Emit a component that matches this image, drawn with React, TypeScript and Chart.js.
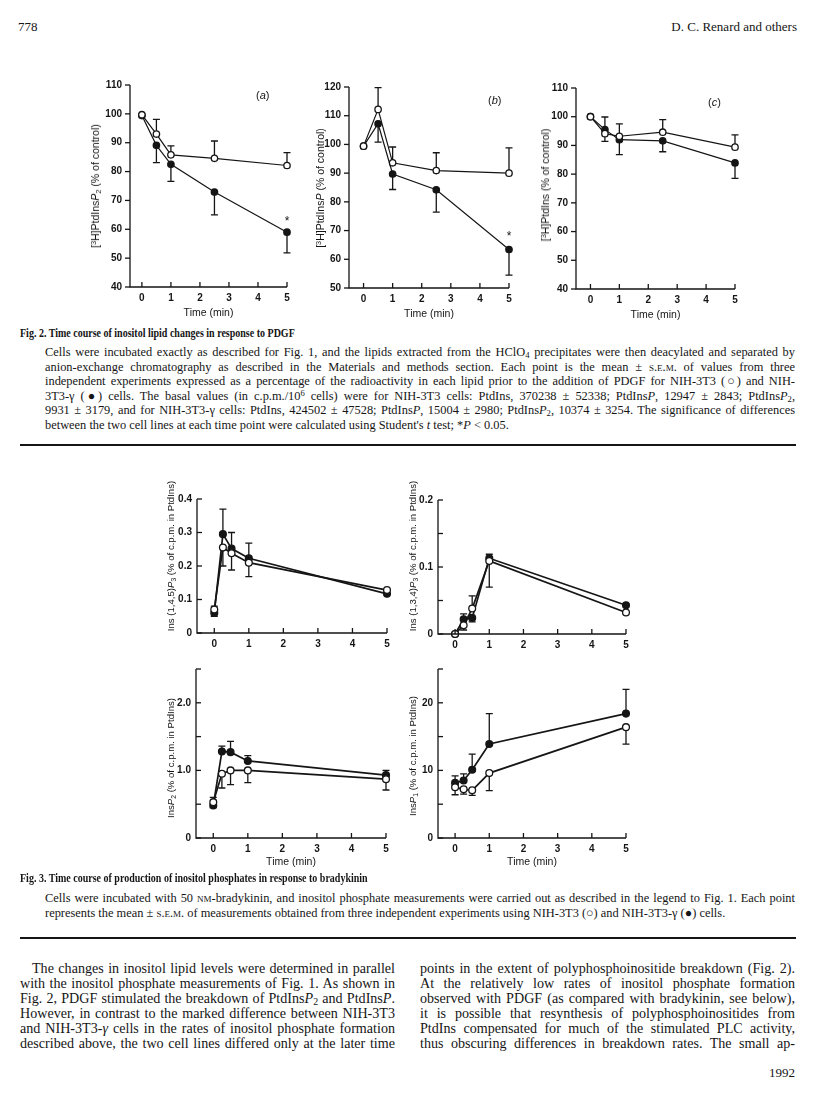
import React, { useEffect, useRef } from 'react';
import { Chart, registerables } from 'chart.js';

Chart.register(...registerables);

// ---------------- data ----------------
const fig2Times = [0, 0.5, 1, 2.5, 5];
const fig3Times = [0, 0.25, 0.5, 1, 5];
const xTickValues = [0, 1, 2, 3, 4, 5];

// Fig. 2(a) PtdInsP2
const fig2aOpen = [99.7, 93.0, 85.8, 84.6, 82.1];
const fig2aOpenErr = [null, 98.1, 88.9, 90.6, 86.6];
const fig2aFilled = [99.4, 89.1, 82.5, 72.9, 59.0];
const fig2aFilledErr = [null, 83.1, 76.6, 65.0, 51.8];
const fig2aStars = [{ x: 5, y: 63.3 }];
const fig2aYTicks = [40, 50, 60, 70, 80, 90, 100, 110];

// Fig. 2(b) PtdInsP
const fig2bOpen = [99.4, 112.2, 93.6, 90.9, 90.0];
const fig2bOpenErr = [null, 119.8, 99.1, 97.1, 98.8];
const fig2bFilled = [99.4, 107.2, 89.7, 84.2, 63.4];
const fig2bFilledErr = [null, 100.8, 84.3, 76.4, 54.5];
const fig2bStars = [{ x: 5, y: 68.5 }];
const fig2bYTicks = [50, 60, 70, 80, 90, 100, 110, 120];

// Fig. 2(c) PtdIns
const fig2cOpen = [100, 94.1, 93.2, 94.6, 89.4];
const fig2cOpenErr = [null, 91.4, 97.5, 99.0, 93.7];
const fig2cFilled = [100, 95.5, 92.0, 91.6, 83.9];
const fig2cFilledErr = [null, 99.9, 86.8, 87.8, 78.5];
const fig2cYTicks = [40, 50, 60, 70, 80, 90, 100, 110];

// Fig. 3 Ins(1,4,5)P3
const fig3aOpen = [0.07, 0.255, 0.238, 0.21, 0.128];
const fig3aOpenErr = [0.08, 0.2, 0.188, 0.168, null];
const fig3aFilled = [0.06, 0.295, 0.252, 0.223, 0.117];
const fig3aFilledErr = [0.05, 0.37, 0.3, 0.268, null];
const fig3aYTicks = [0, 0.1, 0.2, 0.3, 0.4];
const fig3aYLabels = ['0', '0.1', '0.2', '0.3', '0.4'];

// Fig. 3 Ins(1,3,4)P3
const fig3bOpen = [0, 0.013, 0.038, 0.109, 0.032];
const fig3bOpenErr = [null, 0.006, 0.057, 0.07, null];
const fig3bFilled = [0, 0.022, 0.024, 0.113, 0.043];
const fig3bFilledErr = [null, 0.03, 0.018, 0.119, null];
const fig3bYTicks = [0, 0.05, 0.1, 0.15, 0.2];
const fig3bYLabels = ['0', '', '0.1', '', '0.2'];

// Fig. 3 InsP2
const fig3cOpen = [0.53, 0.95, 1.0, 1.0, 0.87];
const fig3cOpenErr = [0.6, 0.74, 0.79, 0.82, 0.71];
const fig3cFilled = [0.48, 1.28, 1.27, 1.14, 0.93];
const fig3cFilledErr = [0.45, 1.36, 1.43, 1.22, 1.0];
const fig3cYTicks = [0, 0.5, 1, 1.5, 2, 2.5];
const fig3cYLabels = ['0', '', '1.0', '', '2.0', ''];

// Fig. 3 InsP1
const fig3dOpen = [7.5, 7.2, 7.05, 9.6, 16.4];
const fig3dOpenErr = [6.4, 6.5, 6.3, 7.0, 13.9];
const fig3dFilled = [8.15, 8.5, 10.1, 13.9, 18.4];
const fig3dFilledErr = [9.2, 9.5, 12.4, 18.4, 22];
const fig3dYTicks = [0, 5, 10, 15, 20, 25];
const fig3dYLabels = ['0', '', '10', '', '20', ''];

// ---------------- helpers ----------------
const SANS = "'Liberation Sans', Arial, Helvetica, sans-serif";
const SERIF = "'Liberation Serif', 'Times New Roman', serif";
const INK = '#151515';
const PAD = { l: 50, t: 14, r: 14, b: 36 };

type Series = { x: number[]; y: number[]; err: (number | null)[]; filled: boolean };
type Spec = {
  plot: { l: number; t: number; r: number; b: number };
  xMin: number;
  yMin: number;
  yMax: number;
  yTicks: number[];
  yLabels: string[];
  yTickDir: 'in' | 'out';
  xTitle: boolean;
  xTitlePad: number;
  series: Series[];
  stars?: { x: number; y: number }[];
  lineWidth: number;
  pointRadius: number;
};

const axesPlugin = {
  id: 'sciAxes',
  afterDatasetsDraw(chart: any, _args: any, opts: any) {
    const { ctx, chartArea } = chart;
    const xs = chart.scales.x;
    const ys = chart.scales.y;
    ctx.save();
    ctx.strokeStyle = INK;
    ctx.lineWidth = 1.3;
    ctx.beginPath();
    ctx.moveTo(chartArea.left, chartArea.top);
    ctx.lineTo(chartArea.left, chartArea.bottom);
    ctx.lineTo(chartArea.right, chartArea.bottom);
    ctx.stroke();
    const len = 5;
    xs.ticks.forEach((t: any) => {
      const px = xs.getPixelForValue(t.value);
      ctx.beginPath();
      ctx.moveTo(px, chartArea.bottom);
      ctx.lineTo(px, chartArea.bottom - len);
      ctx.stroke();
    });
    ys.ticks.forEach((t: any) => {
      const py = ys.getPixelForValue(t.value);
      ctx.beginPath();
      ctx.moveTo(chartArea.left, py);
      ctx.lineTo(chartArea.left + (opts.yTickDir === 'out' ? -len : len), py);
      ctx.stroke();
    });
    ctx.restore();
  },
};

const errorBarPlugin = {
  id: 'errBars',
  beforeDatasetsDraw(chart: any) {
    const { ctx } = chart;
    const xs = chart.scales.x;
    const ys = chart.scales.y;
    ctx.save();
    ctx.strokeStyle = INK;
    ctx.lineWidth = 1.3;
    chart.data.datasets.forEach((ds: any) => {
      (ds.errEnd || []).forEach((e: number | null, j: number) => {
        if (e === null || e === undefined) return;
        const p = ds.data[j];
        const px = xs.getPixelForValue(p.x);
        const py0 = ys.getPixelForValue(p.y);
        const py1 = ys.getPixelForValue(e);
        ctx.beginPath();
        ctx.moveTo(px, py0);
        ctx.lineTo(px, py1);
        ctx.moveTo(px - 3.5, py1);
        ctx.lineTo(px + 3.5, py1);
        ctx.stroke();
      });
    });
    ctx.restore();
  },
};

const starPlugin = {
  id: 'sigStars',
  afterDatasetsDraw(chart: any, _args: any, opts: any) {
    const stars = opts.stars || [];
    if (!stars.length) return;
    const { ctx } = chart;
    ctx.save();
    ctx.fillStyle = INK;
    ctx.font = `12px ${SANS}`;
    ctx.textAlign = 'center';
    ctx.textBaseline = 'middle';
    stars.forEach((s: any) => {
      ctx.fillText('*', chart.scales.x.getPixelForValue(s.x), chart.scales.y.getPixelForValue(s.y) + 2);
    });
    ctx.restore();
  },
};

function ChartPanel({ spec }: { spec: Spec }) {
  const ref = useRef<HTMLCanvasElement>(null);
  const w = spec.plot.r - spec.plot.l + PAD.l + PAD.r;
  const h = spec.plot.b - spec.plot.t + PAD.t + PAD.b;
  useEffect(() => {
    if (!ref.current) return;
    const tickFont = { family: SANS, size: 10, weight: 'bold' as const };
    const chart = new Chart(ref.current, {
      type: 'line',
      data: {
        datasets: spec.series.map((s) => ({
          data: s.x.map((x, i) => ({ x, y: s.y[i] })),
          errEnd: s.err,
          borderColor: INK,
          borderWidth: spec.lineWidth,
          pointRadius: spec.pointRadius,
          pointBackgroundColor: s.filled ? INK : '#ffffff',
          pointBorderColor: INK,
          pointBorderWidth: 1.3,
          fill: false,
          tension: 0,
          clip: false,
        })) as any,
      },
      options: {
        animation: false,
        responsive: false,
        devicePixelRatio: 1,
        layout: { padding: { left: 0, top: PAD.t, right: PAD.r, bottom: 0 } },
        plugins: {
          legend: { display: false },
          tooltip: { enabled: false },
          sciAxes: { yTickDir: spec.yTickDir },
          sigStars: { stars: spec.stars || [] },
        } as any,
        scales: {
          x: {
            type: 'linear',
            min: spec.xMin,
            max: 5,
            grid: { display: false, drawTicks: false },
            border: { display: false },
            ticks: {
              padding: 5,
              font: tickFont,
              color: INK,
              autoSkip: false,
              maxRotation: 0,
              callback: (v: any) => String(v),
            },
            afterBuildTicks: (s: any) => {
              s.ticks = xTickValues.map((v) => ({ value: v }));
            },
            afterFit: (s: any) => {
              s.height = PAD.b;
            },
            title: {
              display: spec.xTitle,
              text: 'Time (min)',
              color: INK,
              font: { family: SANS, size: 10.5 },
              padding: { top: 0, bottom: spec.xTitlePad },
            },
          },
          y: {
            type: 'linear',
            min: spec.yMin,
            max: spec.yMax,
            grid: { display: false, drawTicks: false },
            border: { display: false },
            ticks: {
              padding: spec.yTickDir === 'out' ? 8 : 5,
              font: tickFont,
              color: INK,
              autoSkip: false,
              callback: (v: any) => {
                const i = spec.yTicks.findIndex((t) => Math.abs(t - v) < 1e-9);
                return i >= 0 ? spec.yLabels[i] : '';
              },
            },
            afterBuildTicks: (s: any) => {
              s.ticks = spec.yTicks.map((v) => ({ value: v }));
            },
            afterFit: (s: any) => {
              s.width = PAD.l;
            },
          },
        },
      },
      plugins: [errorBarPlugin, axesPlugin, starPlugin],
    });
    return () => chart.destroy();
  }, []);
  return (
    <canvas
      ref={ref}
      width={w}
      height={h}
      style={{ position: 'absolute', left: spec.plot.l - PAD.l, top: spec.plot.t - PAD.t, width: w, height: h }}
    />
  );
}

const fig2Labels = (ticks: number[]) => ticks.map((t) => String(t));

const specs: Spec[] = [
  {
    plot: { l: 130, t: 85, r: 287, b: 287 },
    xMin: -0.41, yMin: 40, yMax: 110,
    yTicks: fig2aYTicks, yLabels: fig2Labels(fig2aYTicks), yTickDir: 'out', xTitle: true, xTitlePad: 4,
    series: [
      { x: fig2Times, y: fig2aOpen, err: fig2aOpenErr, filled: false },
      { x: fig2Times, y: fig2aFilled, err: fig2aFilledErr, filled: true },
    ],
    stars: fig2aStars, lineWidth: 1.2, pointRadius: 3.2,
  },
  {
    plot: { l: 349, t: 87, r: 509, b: 288 },
    xMin: -0.5, yMin: 50, yMax: 120,
    yTicks: fig2bYTicks, yLabels: fig2Labels(fig2bYTicks), yTickDir: 'out', xTitle: true, xTitlePad: 4,
    series: [
      { x: fig2Times, y: fig2bOpen, err: fig2bOpenErr, filled: false },
      { x: fig2Times, y: fig2bFilled, err: fig2bFilledErr, filled: true },
    ],
    stars: fig2bStars, lineWidth: 1.2, pointRadius: 3.2,
  },
  {
    plot: { l: 576, t: 88, r: 735, b: 289 },
    xMin: -0.5, yMin: 40, yMax: 110,
    yTicks: fig2cYTicks, yLabels: fig2Labels(fig2cYTicks), yTickDir: 'out', xTitle: true, xTitlePad: 4,
    series: [
      { x: fig2Times, y: fig2cOpen, err: fig2cOpenErr, filled: false },
      { x: fig2Times, y: fig2cFilled, err: fig2cFilledErr, filled: true },
    ],
    lineWidth: 1.2, pointRadius: 3.2,
  },
  {
    plot: { l: 197, t: 499, r: 387, b: 633 },
    xMin: -0.5, yMin: 0, yMax: 0.4,
    yTicks: fig3aYTicks, yLabels: fig3aYLabels, yTickDir: 'in', xTitle: false, xTitlePad: 6,
    series: [
      { x: fig3Times, y: fig3aOpen, err: fig3aOpenErr, filled: false },
      { x: fig3Times, y: fig3aFilled, err: fig3aFilledErr, filled: true },
    ],
    lineWidth: 1.7, pointRadius: 3.4,
  },
  {
    plot: { l: 438, t: 500, r: 626, b: 634 },
    xMin: -0.5, yMin: 0, yMax: 0.2,
    yTicks: fig3bYTicks, yLabels: fig3bYLabels, yTickDir: 'in', xTitle: false, xTitlePad: 6,
    series: [
      { x: fig3Times, y: fig3bOpen, err: fig3bOpenErr, filled: false },
      { x: fig3Times, y: fig3bFilled, err: fig3bFilledErr, filled: true },
    ],
    lineWidth: 1.7, pointRadius: 3.4,
  },
  {
    plot: { l: 196, t: 669, r: 386, b: 838 },
    xMin: -0.5, yMin: 0, yMax: 2.5,
    yTicks: fig3cYTicks, yLabels: fig3cYLabels, yTickDir: 'in', xTitle: true, xTitlePad: 6,
    series: [
      { x: fig3Times, y: fig3cOpen, err: fig3cOpenErr, filled: false },
      { x: fig3Times, y: fig3cFilled, err: fig3cFilledErr, filled: true },
    ],
    lineWidth: 1.7, pointRadius: 3.4,
  },
  {
    plot: { l: 438, t: 669, r: 626, b: 838 },
    xMin: -0.5, yMin: 0, yMax: 25,
    yTicks: fig3dYTicks, yLabels: fig3dYLabels, yTickDir: 'in', xTitle: true, xTitlePad: 6,
    series: [
      { x: fig3Times, y: fig3dOpen, err: fig3dOpenErr, filled: false },
      { x: fig3Times, y: fig3dFilled, err: fig3dFilledErr, filled: true },
    ],
    lineWidth: 1.7, pointRadius: 3.4,
  },
];

// ---------------- text helpers ----------------
const sub = (t: string) => <sub style={{ fontSize: '70%', lineHeight: 0, verticalAlign: '-0.25em' }}>{t}</sub>;
const sup = (t: string) => <sup style={{ fontSize: '70%', lineHeight: 0, verticalAlign: '0.45em' }}>{t}</sup>;
const sc = (t: string) => <span style={{ fontVariant: 'small-caps' }}>{t}</span>;

function YTitle({ cx, cy, size, children }: { cx: number; cy: number; size: number; children: React.ReactNode }) {
  return (
    <div
      style={{
        position: 'absolute', left: cx, top: cy, whiteSpace: 'nowrap', fontFamily: SANS, fontSize: size,
        color: INK, lineHeight: '12px', transform: 'translate(-50%, -50%) rotate(-90deg)',
      }}
    >
      {children}
    </div>
  );
}

function TextLine({ left, cy, width, size, lh, last, children }: any) {
  return (
    <div
      style={{
        position: 'absolute', left, top: cy - lh / 2, width, height: lh, lineHeight: `${lh}px`, fontSize: size,
        fontFamily: SERIF, color: INK, whiteSpace: 'nowrap', textAlign: 'justify',
        textAlignLast: last ? 'left' : 'justify',
      } as any}
    >
      {children}
    </div>
  );
}

function Title({ left, cy, children }: any) {
  return (
    <div
      style={{
        position: 'absolute', left, top: cy - 8, height: 16, lineHeight: '16px', fontSize: 12.5,
        fontFamily: SERIF, fontWeight: 'bold', color: INK, whiteSpace: 'nowrap',
        transform: 'scaleX(0.8)', transformOrigin: 'left center',
      }}
    >
      {children}
    </div>
  );
}

const cap2 = [
  <>Cells were incubated exactly as described for Fig. 1, and the lipids extracted from the HClO{sub('4')} precipitates were then deacylated and separated by</>,
  <>anion-exchange chromatography as described in the Materials and methods section. Each point is the mean ± {sc('s.e.m.')} of values from three</>,
  <>independent experiments expressed as a percentage of the radioactivity in each lipid prior to the addition of PDGF for NIH-3T3 (○) and NIH-</>,
  <>3T3-γ (●) cells. The basal values (in c.p.m./10{sup('6')} cells) were for NIH-3T3 cells: PtdIns, 370238 ± 52338; PtdIns<i>P</i>, 12947 ± 2843; PtdIns<i>P</i>{sub('2')},</>,
  <>9931 ± 3179, and for NIH-3T3-γ cells: PtdIns, 424502 ± 47528; PtdIns<i>P</i>, 15004 ± 2980; PtdIns<i>P</i>{sub('2')}, 10374 ± 3254. The significance of differences</>,
  <>between the two cell lines at each time point were calculated using Student's <i>t</i> test; *<i>P</i> &lt; 0.05.</>,
];
const cap2Y = [352, 366.6, 381.2, 395.8, 410.4, 425];

const cap3 = [
  <>Cells were incubated with 50 {sc('nm')}-bradykinin, and inositol phosphate measurements were carried out as described in the legend to Fig. 1. Each point</>,
  <>represents the mean ± {sc('s.e.m.')} of measurements obtained from three independent experiments using NIH-3T3 (○) and NIH-3T3-γ (●) cells.</>,
];
const cap3Y = [898, 913];

const bodyLeft = [
  <>The changes in inositol lipid levels were determined in parallel</>,
  <>with the inositol phosphate measurements of Fig. 1. As shown in</>,
  <>Fig. 2, PDGF stimulated the breakdown of PtdIns<i>P</i>{sub('2')} and PtdIns<i>P</i>.</>,
  <>However, in contrast to the marked difference between NIH-3T3</>,
  <>and NIH-3T3-<i>γ</i> cells in the rates of inositol phosphate formation</>,
  <>described above, the two cell lines differed only at the later time</>,
];
const bodyRight = [
  <>points in the extent of polyphosphoinositide breakdown (Fig. 2).</>,
  <>At the relatively low rates of inositol phosphate formation</>,
  <>observed with PDGF (as compared with bradykinin, see below),</>,
  <>it is possible that resynthesis of polyphosphoinositides from</>,
  <>PtdIns compensated for much of the stimulated PLC activity,</>,
  <>thus obscuring differences in breakdown rates. The small ap-</>,
];
const bodyY = [968, 983, 998, 1013, 1028, 1043];

export default function App() {
  return (
    <div style={{ position: 'absolute', left: 0, top: 0, width: 816, height: 1101, background: '#fff', overflow: 'hidden' }}>
      {/* header */}
      <div style={{ position: 'absolute', left: 18, top: 19, fontFamily: SERIF, fontSize: 13, color: INK }}>778</div>
      <div style={{ position: 'absolute', right: 19, top: 19, fontFamily: SERIF, fontSize: 13, color: INK }}>D. C. Renard and others</div>

      {specs.map((s, i) => (
        <ChartPanel key={i} spec={s} />
      ))}

      {/* Fig 2 axis titles and panel letters */}
      <YTitle cx={95} cy={186} size={10.5}>[{sup('3')}H]PtdIns<i>P</i>{sub('2')} (% of control)</YTitle>
      <YTitle cx={320} cy={188} size={10.5}>[{sup('3')}H]PtdIns<i>P</i> (% of control)</YTitle>
      <YTitle cx={545} cy={185} size={10.5}>[{sup('3')}H]PtdIns (% of control)</YTitle>
      <div style={{ position: 'absolute', left: 256, top: 89, fontFamily: SANS, fontSize: 11, color: INK }}>(<i>a</i>)</div>
      <div style={{ position: 'absolute', left: 488, top: 94, fontFamily: SANS, fontSize: 11, color: INK }}>(<i>b</i>)</div>
      <div style={{ position: 'absolute', left: 708, top: 96, fontFamily: SANS, fontSize: 11, color: INK }}>(<i>c</i>)</div>

      {/* Fig 3 axis titles */}
      <YTitle cx={171} cy={556} size={9.6}>Ins (1,4,5)<i>P</i>{sub('3')} (% of c.p.m. in PtdIns)</YTitle>
      <YTitle cx={413} cy={556} size={9.6}>Ins (1,3,4)<i>P</i>{sub('3')} (% of c.p.m. in PtdIns)</YTitle>
      <YTitle cx={171} cy={758} size={9.6}>Ins<i>P</i>{sub('2')} (% of c.p.m. in PtdIns)</YTitle>
      <YTitle cx={413} cy={756} size={9.6}>Ins<i>P</i>{sub('1')} (% of c.p.m. in PtdIns)</YTitle>

      {/* Fig 2 caption */}
      <Title left={20} cy={333}>Fig. 2. Time course of inositol lipid changes in response to PDGF</Title>
      {cap2.map((c, i) => (
        <TextLine key={i} left={45} cy={cap2Y[i]} width={750} size={12.4} lh={14} last={i === cap2.length - 1}>{c}</TextLine>
      ))}
      <div style={{ position: 'absolute', left: 20, top: 444, width: 776, height: 1.6, background: INK }} />

      {/* Fig 3 caption */}
      <Title left={20} cy={878}>Fig. 3. Time course of production of inositol phosphates in response to bradykinin</Title>
      {cap3.map((c, i) => (
        <TextLine key={i} left={45} cy={cap3Y[i]} width={750} size={12.4} lh={14} last={i === cap3.length - 1}>{c}</TextLine>
      ))}
      <div style={{ position: 'absolute', left: 20, top: 937, width: 776, height: 1.6, background: INK }} />

      {/* body text */}
      {bodyLeft.map((c, i) => (
        <TextLine key={'l' + i} left={i === 0 ? 32 : 20} cy={bodyY[i]} width={i === 0 ? 363 : 375} size={14.1} lh={15}>{c}</TextLine>
      ))}
      {bodyRight.map((c, i) => (
        <TextLine key={'r' + i} left={420} cy={bodyY[i]} width={375} size={14.1} lh={15}>{c}</TextLine>
      ))}
      <div style={{ position: 'absolute', right: 21, top: 1065, fontFamily: SERIF, fontSize: 13, color: INK }}>1992</div>
    </div>
  );
}
